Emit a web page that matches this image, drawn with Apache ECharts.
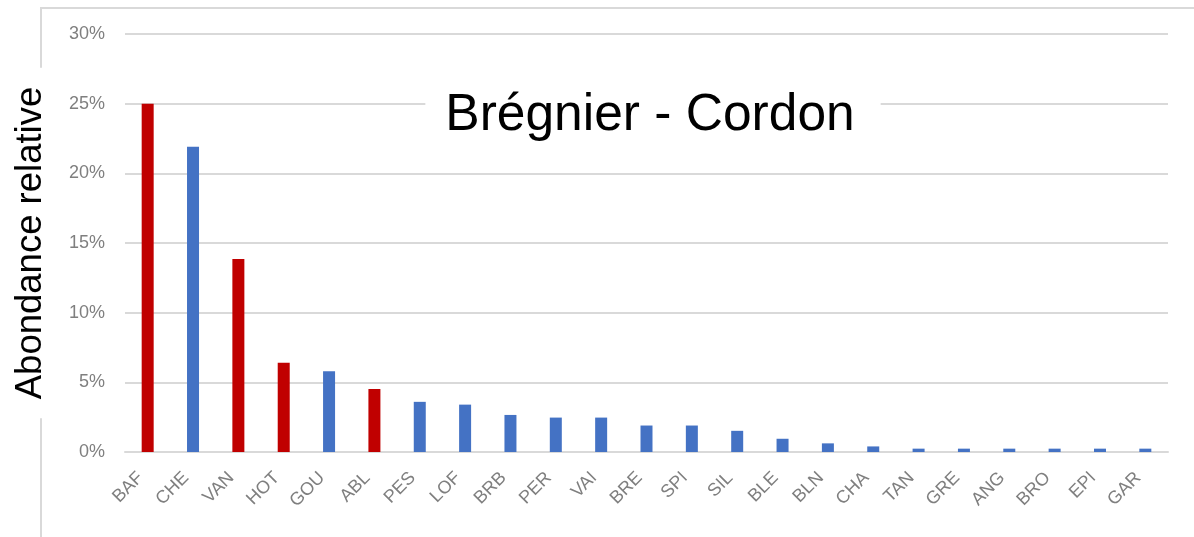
<!DOCTYPE html>
<html>
<head>
<meta charset="utf-8">
<script src="https://cdn.jsdelivr.net/npm/echarts@6/dist/echarts.min.js"></script>
<style>
  html, body { margin: 0; padding: 0; background: #fff; }
  #chart { width: 1194px; height: 537px; }
</style>
</head>
<body>
<div id="chart"></div>
<script>
const titleText = 'Brégnier - Cordon';
const yAxisName = 'Abondance relative';
const categories = ['BAF','CHE','VAN','HOT','GOU','ABL','PES','LOF','BRB','PER','VAI','BRE','SPI','SIL','BLE','BLN','CHA','TAN','GRE','ANG','BRO','EPI','GAR'];
const values = [25.0, 21.9, 13.85, 6.4, 5.8, 4.52, 3.6, 3.4, 2.66, 2.47, 2.47, 1.9, 1.9, 1.52, 0.95, 0.62, 0.4, 0.24, 0.24, 0.24, 0.24, 0.24, 0.24];
const redCategories = ['BAF','VAN','HOT','ABL'];
const yTicks = [0, 5, 10, 15, 20, 25, 30];

const RED = '#C00000';
const BLUE = '#4472C4';
const FONT = '"Liberation Sans", Arial, sans-serif';

const chart = echarts.init(document.getElementById('chart'));
chart.setOption({
  animation: false,
  backgroundColor: '#fff',
  graphic: [{
    type: 'rect',
    z: -10,
    silent: true,
    shape: { x: 41, y: 8, width: 1400, height: 800 },
    style: { fill: 'none', stroke: '#d9d9d9', lineWidth: 2 }
  }],
  title: {
    text: titleText,
    left: 630,
    top: 86,
    textAlign: 'center',
    backgroundColor: '#fff',
    padding: [4, 26, 4, 20],
    textStyle: { fontFamily: FONT, fontSize: 51.5, fontWeight: 'normal', color: '#000' }
  },
  grid: { left: 120, right: 26, top: 34, bottom: 85 },
  xAxis: {
    type: 'category',
    data: categories,
    axisLine: { show: true, lineStyle: { color: '#d9d9d9', width: 2 } },
    axisTick: { show: false },
    axisLabel: { rotate: 45, fontSize: 18, color: '#7f7f7f', fontFamily: FONT, margin: 16, padding: [0, 10, 0, 0], interval: 0 }
  },
  yAxis: {
    type: 'value',
    min: yTicks[0],
    max: yTicks[yTicks.length - 1],
    interval: yTicks[1] - yTicks[0],
    name: yAxisName,
    nameLocation: 'middle',
    nameRotate: 90,
    nameGap: 72,
    nameTextStyle: {
      fontFamily: FONT, fontSize: 36.5, color: '#000',
      backgroundColor: '#fff', padding: [4, 19, 4, 19]
    },
    axisLine: { show: false },
    axisTick: { show: false },
    splitLine: { lineStyle: { color: '#d9d9d9', width: 2 } },
    axisLabel: { formatter: '{value}%', fontSize: 18, color: '#7f7f7f', fontFamily: FONT, margin: 20 }
  },
  series: [{
    type: 'bar',
    barWidth: 12,
    data: values.map((v, i) => ({
      value: v,
      itemStyle: { color: redCategories.includes(categories[i]) ? RED : BLUE }
    }))
  }]
});
</script>
</body>
</html>
